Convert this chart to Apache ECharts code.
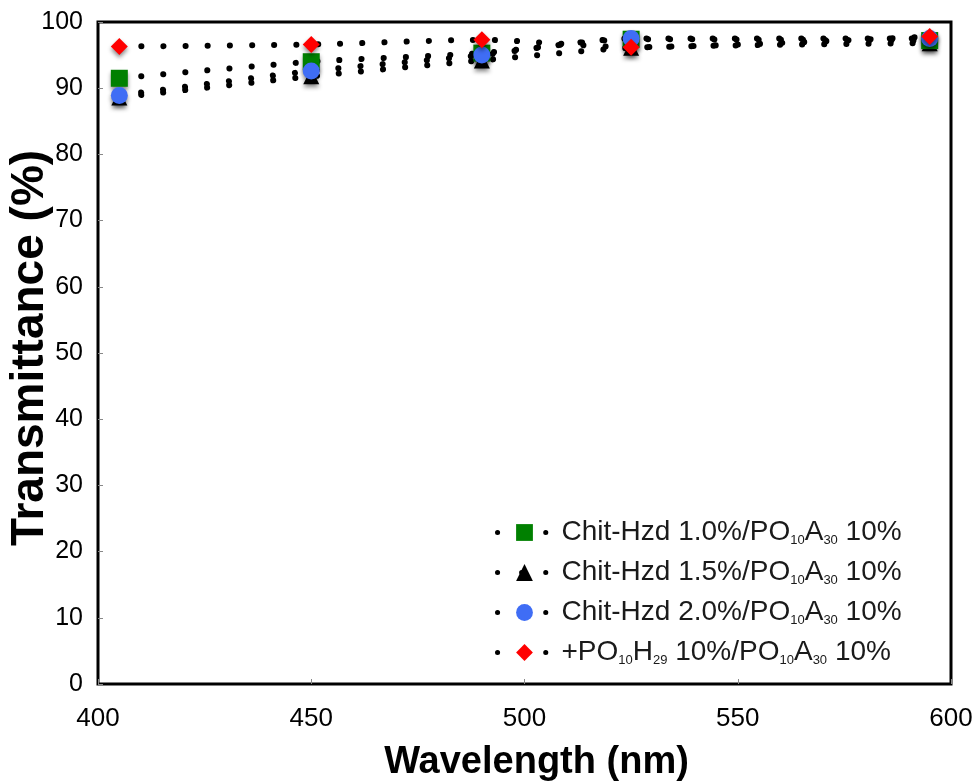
<!DOCTYPE html>
<html>
<head>
<meta charset="utf-8">
<script src="https://cdn.jsdelivr.net/npm/echarts@6/dist/echarts.min.js"></script>
<style>
  html, body { margin: 0; padding: 0; background: #fff; }
  #main { width: 976px; height: 782px; }
</style>
</head>
<body>
<div id="main"></div>
<script>
// 数据 ----------------------------------------------------------
var wavelengths = [405, 450, 490, 525, 595];
var hzd10 = [91.5, 94.0, 95.3, 97.4, 97.2];
var hzd15 = [88.6, 91.8, 94.2, 96.1, 96.8];
var hzd20 = [88.9, 92.6, 95.0, 97.5, 97.5];
var poh29 = [96.3, 96.6, 97.3, 96.2, 97.8];

var seriesNames = ['hzd10', 'hzd15', 'hzd20', 'poh29'];
var legendLabels = [
    'Chit-Hzd 1.0%/PO{s|10}A{s|30} 10%',
    'Chit-Hzd 1.5%/PO{s|10}A{s|30} 10%',
    'Chit-Hzd 2.0%/PO{s|10}A{s|30} 10%',
    '+PO{s|10}H{s|29} 10%/PO{s|10}A{s|30} 10%'
];
var xTicks = [400, 450, 500, 550, 600];
var yTicks = [0, 10, 20, 30, 40, 50, 60, 70, 80, 90, 100];

function pairs(vals) {
    return wavelengths.map(function (w, i) { return [w, vals[i]]; });
}

var dotLine = { color: '#000', width: 6, type: [0.1, 22], cap: 'round' };
var shadow = { shadowBlur: 4, shadowColor: 'rgba(0,0,0,0.45)', shadowOffsetY: 3 };

function makeSeries(name, vals, symbol, color, size, z) {
    return {
        name: name,
        type: 'line',
        data: pairs(vals),
        smooth: 0.25,
        symbol: symbol,
        symbolSize: size,
        showAllSymbol: true,
        z: z,
        lineStyle: dotLine,
        itemStyle: Object.assign({ color: color, opacity: 1 }, shadow),
        emphasis: { disabled: true }
    };
}

var myChart = echarts.init(document.getElementById('main'));

var option = {
    animation: false,
    backgroundColor: '#fff',
    grid: {
        left: 98, right: 25, top: 22, bottom: 98,
        outerBoundsMode: 'none',
        containLabel: false,
        show: true, borderColor: '#000', borderWidth: 3
    },
    legend: {
        left: 490, top: 513,
        orient: 'vertical',
        itemGap: 11,
        itemWidth: 54, itemHeight: 21,
        data: seriesNames,
        lineStyle: { color: '#000', width: 5, type: [0.1, 24], cap: 'round' },
        formatter: function (name) {
            return legendLabels[seriesNames.indexOf(name)];
        },
        textStyle: {
            fontFamily: 'Liberation Sans, Arial, sans-serif',
            fontSize: 28,
            lineHeight: 29,
            padding: [0, 0, 0, 5],
            color: '#1a1a1a',
            rich: {
                s: { fontSize: 13, lineHeight: 13, verticalAlign: 'bottom', color: '#1a1a1a',
                     fontFamily: 'Liberation Sans, Arial, sans-serif' }
            }
        }
    },
    xAxis: {
        type: 'value',
        min: 400, max: 600, interval: 50,
        name: 'Wavelength (nm)',
        nameLocation: 'middle',
        nameGap: 60,
        nameMoveOverlap: false,
        nameTextStyle: {
            fontFamily: 'Liberation Sans, Arial, sans-serif',
            fontWeight: 'bold', fontSize: 38, color: '#000',
            padding: [0, 0, 0, 24]
        },
        axisLine: { show: false },
        axisTick: { show: true, inside: true, length: 5, lineStyle: { color: '#888' } },
        splitLine: { show: false },
        axisLabel: {
            margin: 22,
            fontFamily: 'Liberation Sans, Arial, sans-serif',
            fontSize: 26, color: '#000',
            formatter: function (v) { return xTicks.indexOf(v) >= 0 ? String(v) : ''; }
        }
    },
    yAxis: {
        type: 'value',
        min: 0, max: 100, interval: 10,
        name: 'Transmittance (%)',
        nameLocation: 'middle',
        nameGap: 45,
        nameMoveOverlap: false,
        nameTextStyle: {
            fontFamily: 'Liberation Sans, Arial, sans-serif',
            fontWeight: 'bold', fontSize: 46, color: '#000',
            padding: [0, 0, 0, 10]
        },
        axisLine: { show: false },
        axisTick: { show: true, inside: true, length: 5, lineStyle: { color: '#888' } },
        splitLine: { show: false },
        axisLabel: {
            margin: 15,
            fontFamily: 'Liberation Sans, Arial, sans-serif',
            fontSize: 25, color: '#000',
            formatter: function (v) { return yTicks.indexOf(v) >= 0 ? String(v) : ''; }
        }
    },
    series: [
        makeSeries('hzd10', hzd10, 'rect', '#008000', 17, 3),
        makeSeries('hzd15', hzd15, 'triangle', '#000000', 16, 2),
        makeSeries('hzd20', hzd20, 'circle', '#3f6df5', 17, 4),
        makeSeries('poh29', poh29, 'diamond', '#ff0000', 17, 5)
    ]
};

myChart.setOption(option);
</script>
</body>
</html>
